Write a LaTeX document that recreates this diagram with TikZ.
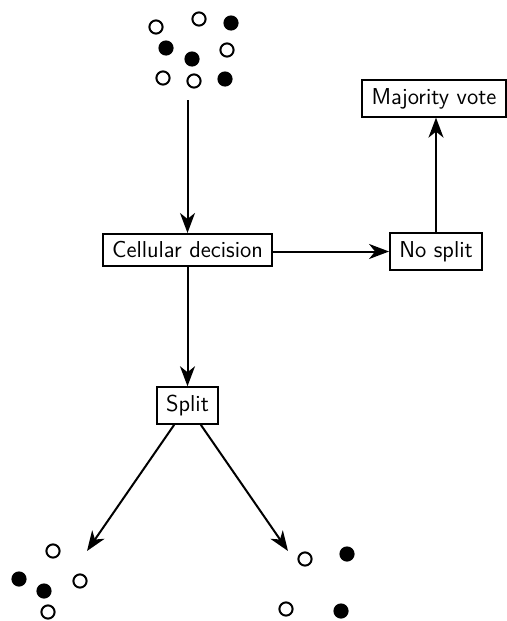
\documentclass[tikz,border=0pt]{standalone}
\usetikzlibrary{arrows.meta}
\begin{document}
\begin{tikzpicture}[x=0.5pt,y=-0.5pt,
  font=\sffamily\fontsize{11.5}{14}\selectfont,
  box/.style={draw,line width=1pt,inner xsep=4.6pt,inner ysep=3.9pt,fill=white},
  flow/.style={line width=1pt,-{Stealth[length=10pt,width=7.5pt,inset=3pt]}},
  wdot/.style={draw,line width=1pt,fill=white},
  bdot/.style={fill=black}]
\useasboundingbox (0,0) rectangle (507,621);
% top cluster
\foreach \p in {(156,27),(199,19),(227,50),(163,78),(194,81)} \draw[wdot] \p circle[radius=3.3pt];
\foreach \p in {(231,23),(166,48),(192,59),(225,79)} \fill[bdot] \p circle[radius=3.8pt];
% bottom-left cluster
\foreach \p in {(53,551),(80,581),(48,612)} \draw[wdot] \p circle[radius=3.3pt];
\foreach \p in {(19,579),(44,591)} \fill[bdot] \p circle[radius=3.8pt];
% bottom-right cluster
\foreach \p in {(305,559),(286,609)} \draw[wdot] \p circle[radius=3.3pt];
\foreach \p in {(347,554),(341,611)} \fill[bdot] \p circle[radius=3.8pt];

\coordinate (top) at (187.5,100);
\coordinate (bl) at (87,551);
\coordinate (br) at (288,551);
\node[box] (cell) at (187.5,250) {Cellular decision};
\node[box] (nosplit) at (436,251.5) {No split};
\node[box] (mv) at (434,98.5) {Majority vote};
\node[box] (split) at (187.5,405.5) {Split};

\draw[flow] (top) -- (cell.north);
\draw[flow] (cell.east |- nosplit.west) -- (nosplit.west);
\draw[flow] (nosplit.north) -- (nosplit.north |- mv.south);
\draw[flow] (cell.south) -- (split.north);
\draw[flow] (split) -- (bl);
\draw[flow] (split) -- (br);
\end{tikzpicture}
\end{document}
